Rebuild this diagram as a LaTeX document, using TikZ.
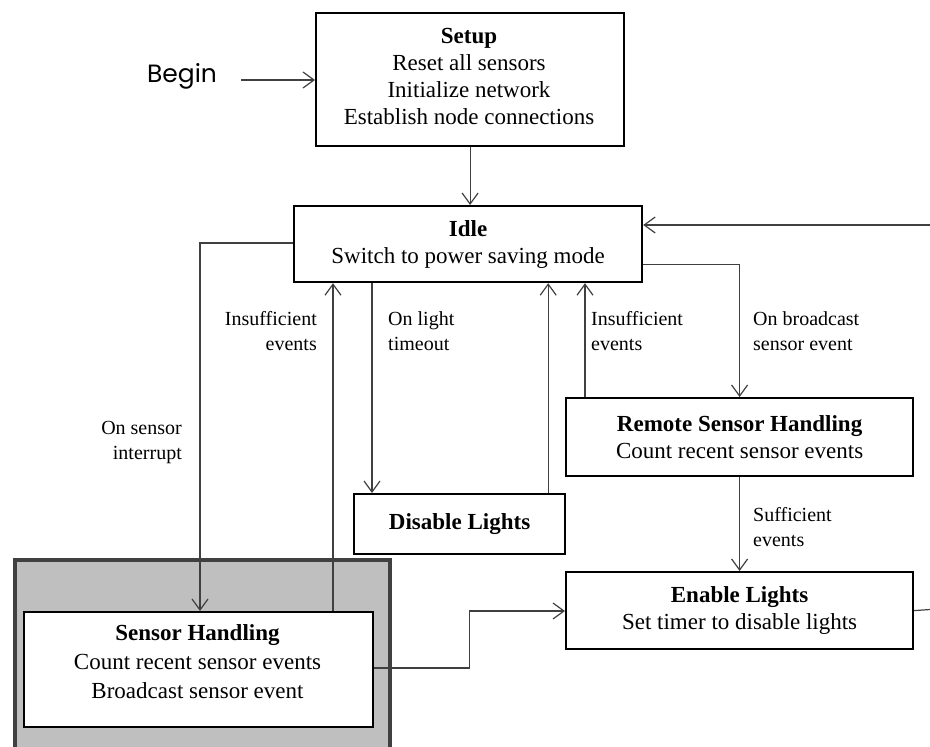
\documentclass[tikz,border=0pt]{standalone}
\usepackage{fontspec}
\setmainfont{Liberation Serif}
\newfontfamily\beginfont{Poppins}
\usetikzlibrary{arrows.meta}
\definecolor{lncol}{HTML}{404040}
\definecolor{hlfill}{HTML}{BFBFBF}
\begin{document}
\begin{tikzpicture}[x=1pt,y=-1pt,
  box/.style={draw=black, line width=2.2pt, fill=white, align=center, inner sep=0pt,
    anchor=north west, font=\fontsize{23}{27}\selectfont},
  boxtext/.style={align=center, inner sep=0pt, font=\fontsize{23}{27}\selectfont},
  conn/.style={draw=lncol, line width=1.2pt,
    -{Straight Barb[length=11pt,width=16pt,line width=1.2pt]}},
  plain/.style={draw=lncol, line width=1.2pt},
  lbl/.style={inner sep=0pt, font=\fontsize{20}{25}\selectfont},
  hlbox/.style={draw=lncol, line width=4pt, fill=hlfill, inner sep=0pt, anchor=north west}]
\useasboundingbox (0,0) rectangle (930,747);

% highlight panel
\node[hlbox, minimum width=375, minimum height=205] (hl) at (13,558) {};

% state boxes
\node[box, minimum width=308, minimum height=133] (setup) at (315,12) {};
\node[boxtext] (setuptxt) at (469,76)
  {\textbf{Setup}\\Reset all sensors\\Initialize network\\Establish node connections};
\node[box, minimum width=348, minimum height=76] (idle) at (293,205)
  {\textbf{Idle}\\Switch to power saving mode};
\node[box, minimum width=347, minimum height=78] (remote) at (565,397)
  {\textbf{Remote Sensor Handling}\\Count recent sensor events};
\node[box, minimum width=211, minimum height=60] (disable) at (353,493)
  {\textbf{Disable Lights}};
\node[box, minimum width=347, minimum height=77] (enable) at (565,571)
  {\textbf{Enable Lights}\\Set timer to disable lights};
\node[box, minimum width=349, minimum height=115] (sensor) at (23,611) {};
\node[boxtext, font=\fontsize{23}{29}\selectfont] (sensortxt) at (197.5,662)
  {\textbf{Sensor Handling}\\Count recent sensor events\\Broadcast sensor event};

% begin
\node[font=\beginfont\fontsize{25}{29}\selectfont, inner sep=0pt] (begin) at (182,76) {Begin};
\coordinate (b0) at (241,80);
\coordinate (rin) at (930,225);
\coordinate (rout) at (930,609.5);

% connectors
\draw[conn] (b0) -- (b0 -| setup.west);
\draw[conn] (setup.south) -- (setup.south |- idle.north);
\draw[conn] (rin) -- (rin -| idle.east);
\draw[conn] ([yshift=-20pt]idle.east) -| (remote.north);
\draw[conn] (remote.south) -- (enable.north);
\draw[conn] ([xshift=20pt]remote.north west) -- ([xshift=20pt]remote.north west |- idle.south);
\draw[conn] ([xshift=79pt]idle.south west) -- ([xshift=79pt]idle.south west |- disable.north);
\draw[conn] ([xshift=-18pt]disable.north east) -- ([xshift=-18pt]disable.north east |- idle.south);
\draw[conn] ([yshift=-38pt]idle.north west) -| ([xshift=177pt]sensor.north west);
\draw[conn] ([xshift=310pt]sensor.north west) -- ([xshift=310pt]sensor.north west |- idle.south);
\draw[conn] ([yshift=-57pt]sensor.north east) -- ++(95,0) |- ([yshift=-40pt]enable.north west);
\draw[plain] (enable.east) -- (rout);

% labels
\node[lbl, anchor=east, align=right] (l1) at (317,331) {Insufficient\\events};
\node[lbl, anchor=west, align=left] (l2) at (388,331) {On light\\timeout};
\node[lbl, anchor=west, align=left] (l3) at (591,331) {Insufficient\\events};
\node[lbl, anchor=west, align=left] (l4) at (753,331) {On broadcast\\sensor event};
\node[lbl, anchor=east, align=right] (l5) at (182,443) {On sensor\\interrupt};
\node[lbl, anchor=west, align=left] (l6) at (753,527) {Sufficient\\events};
\end{tikzpicture}
\end{document}
